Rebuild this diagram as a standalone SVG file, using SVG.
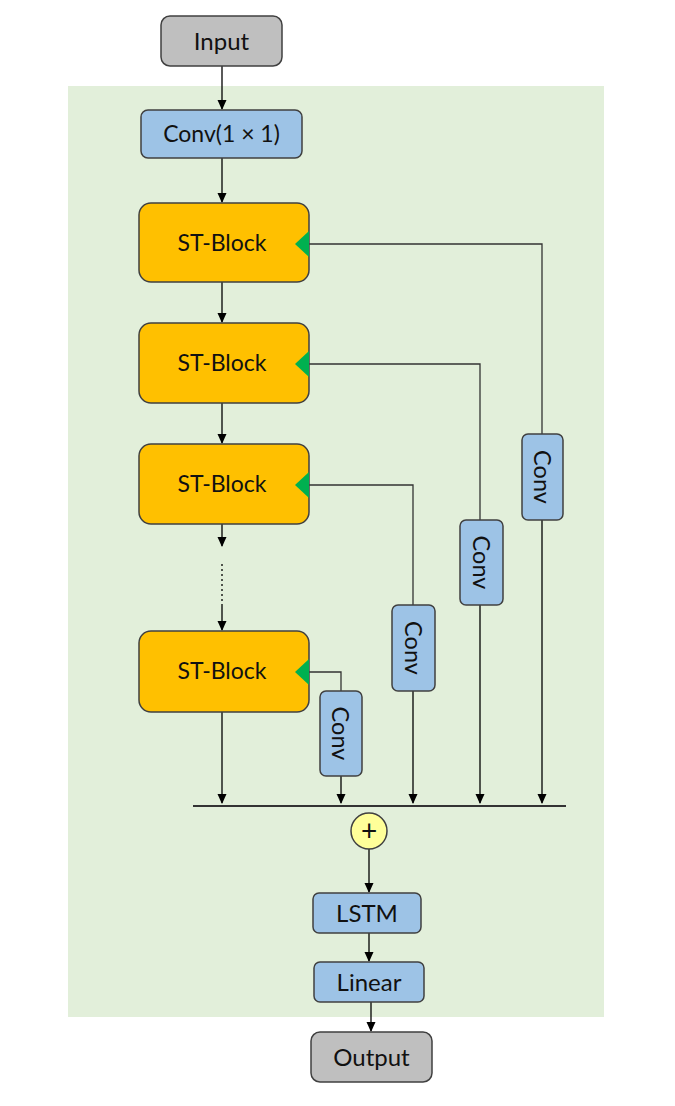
<svg xmlns="http://www.w3.org/2000/svg" width="675" height="1106" viewBox="0 0 675 1106">
<defs>
<marker id="ah" markerWidth="10" markerHeight="10" refX="9" refY="5" orient="auto" markerUnits="userSpaceOnUse">
<path d="M0,0.5 L10,5 L0,9.5 Z" fill="#000"/>
</marker>
<style>
text{font-family:Lato,"Open Sans","Liberation Sans",sans-serif;fill:#111;text-anchor:middle;dominant-baseline:central}
.gray{fill:#bfbfbf;stroke:#404040;stroke-width:1.5}
.blue{fill:#9dc3e6;stroke:#404040;stroke-width:1.5}
.st{fill:#ffc000;stroke:#404040;stroke-width:1.5}
.tri{fill:#00b050}
.ln{fill:none;stroke:#000;stroke-width:1.3}
.lnh{fill:none;stroke:#333;stroke-width:1.3}
.t23{font-size:23px}
.t24{font-size:24px}
.tc{font-size:23.5px}
</style>
</defs>
<rect x="0" y="0" width="675" height="1106" fill="#fff"/>
<rect id="bg" x="68" y="86" width="536" height="931" fill="#e2efda"/>

<g id="connectors">
<line class="ln" x1="222" y1="66" x2="222" y2="109" marker-end="url(#ah)"/>
<line class="ln" x1="222" y1="158" x2="222" y2="202" marker-end="url(#ah)"/>
<line class="ln" x1="222" y1="282" x2="222" y2="322" marker-end="url(#ah)"/>
<line class="ln" x1="222" y1="403" x2="222" y2="443" marker-end="url(#ah)"/>
<line class="ln" x1="222" y1="524" x2="222" y2="546" marker-end="url(#ah)"/>
<line class="ln" x1="222" y1="564" x2="222" y2="606" stroke-dasharray="2,3"/>
<line class="ln" x1="222" y1="606" x2="222" y2="630" marker-end="url(#ah)"/>
<line class="ln" x1="222" y1="712" x2="222" y2="803" marker-end="url(#ah)"/>
<polyline class="lnh" points="309,244 542,244 542,434"/>
<line class="ln" x1="542" y1="520" x2="542" y2="803" marker-end="url(#ah)"/>
<polyline class="lnh" points="309,364 480,364 480,520"/>
<line class="ln" x1="480" y1="605" x2="480" y2="803" marker-end="url(#ah)"/>
<polyline class="lnh" points="309,485 413,485 413,605"/>
<line class="ln" x1="413" y1="691" x2="413" y2="803" marker-end="url(#ah)"/>
<polyline class="lnh" points="309,672 341,672 341,691"/>
<line class="ln" x1="341" y1="776" x2="341" y2="803" marker-end="url(#ah)"/>
<line x1="193" y1="806" x2="566" y2="806" stroke="#333" stroke-width="1.8"/>
<line class="ln" x1="369" y1="849" x2="369" y2="892" marker-end="url(#ah)"/>
<line class="ln" x1="369" y1="933" x2="369" y2="961" marker-end="url(#ah)"/>
<line class="ln" x1="371" y1="1002" x2="371" y2="1031" marker-end="url(#ah)"/>
</g>

<g id="input"><rect class="gray" x="161" y="16" width="121" height="50" rx="9"/><text class="t24" x="221.5" y="40">Input</text></g>
<g id="conv1x1"><rect class="blue" x="141" y="110" width="161" height="48" rx="7"/><text class="t23" x="221.5" y="133">Conv(1 × 1)</text></g>

<g id="st1"><rect class="st" x="139" y="203" width="170" height="79" rx="12"/><text class="t23" x="222" y="242">ST-Block</text><polygon class="tri" points="295,244 309,231 309,257"/></g>
<g id="st2"><rect class="st" x="139" y="323" width="170" height="80" rx="12"/><text class="t23" x="222" y="362">ST-Block</text><polygon class="tri" points="295,364 309,351 309,377"/></g>
<g id="st3"><rect class="st" x="139" y="444" width="170" height="80" rx="12"/><text class="t23" x="222" y="483">ST-Block</text><polygon class="tri" points="295,485 309,472 309,498"/></g>
<g id="st4"><rect class="st" x="139" y="631" width="170" height="81" rx="12"/><text class="t23" x="222" y="670">ST-Block</text><polygon class="tri" points="295,672 309,659 309,685"/></g>

<g id="conv_a"><rect class="blue" x="522" y="434" width="41" height="86" rx="6"/><text class="tc" transform="translate(542.5,477) rotate(90)">Conv</text></g>
<g id="conv_b"><rect class="blue" x="460" y="520" width="43" height="85" rx="6"/><text class="tc" transform="translate(481.5,562.5) rotate(90)">Conv</text></g>
<g id="conv_c"><rect class="blue" x="392" y="605" width="43" height="86" rx="6"/><text class="tc" transform="translate(413.5,648) rotate(90)">Conv</text></g>
<g id="conv_d"><rect class="blue" x="320" y="691" width="42" height="85" rx="6"/><text class="tc" transform="translate(341,733.5) rotate(90)">Conv</text></g>

<g id="sum"><circle cx="369" cy="831" r="18" fill="#ffff99" stroke="#404040" stroke-width="1.5"/><text x="369" y="830" style="font-size:28px">+</text></g>
<g id="lstm"><rect class="blue" x="313" y="893" width="108" height="40" rx="6"/><text class="t24" x="367" y="912">LSTM</text></g>
<g id="linear"><rect class="blue" x="314" y="962" width="110" height="40" rx="6"/><text class="t24" x="369" y="981">Linear</text></g>
<g id="output"><rect class="gray" x="311" y="1032" width="121" height="50" rx="9"/><text class="t24" x="371.5" y="1056">Output</text></g>
</svg>
